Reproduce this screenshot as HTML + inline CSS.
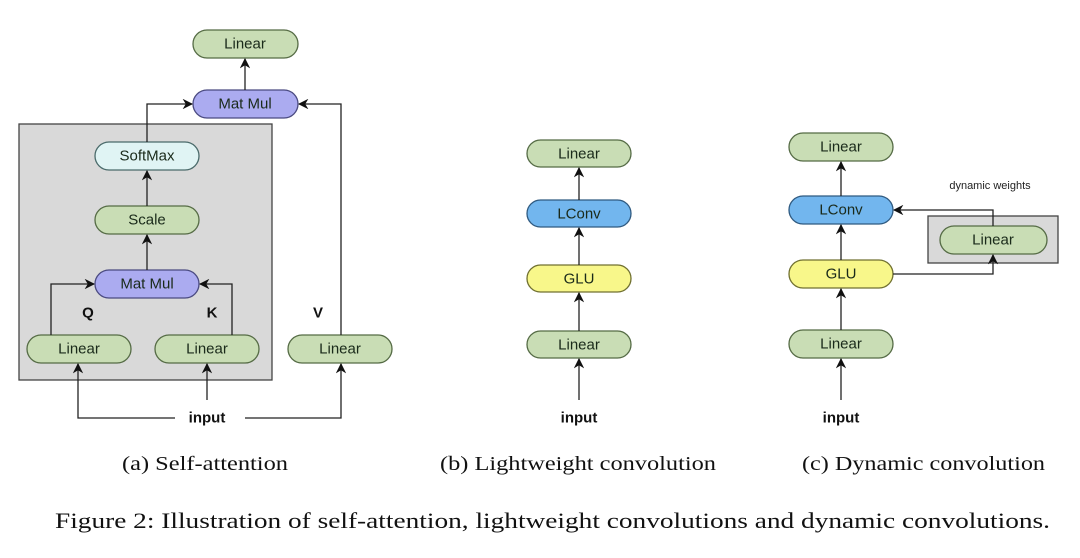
<!DOCTYPE html>
<html><head><meta charset="utf-8"><style>
html,body{margin:0;padding:0;background:#fff;}
svg{display:block;}
.n{font-family:"Liberation Sans",sans-serif;font-size:15px;fill:#1a2a1a;text-anchor:middle;dominant-baseline:central;}
.b{font-family:"Liberation Sans",sans-serif;font-size:15px;font-weight:bold;fill:#111;text-anchor:middle;dominant-baseline:central;}
.c{font-family:"Liberation Serif",serif;fill:#111;}
.g{fill:#c9ddb5;stroke:#556b45;stroke-width:1.3;}
.p{fill:#ababf0;stroke:#4a4a80;stroke-width:1.3;}
.s{fill:#e0f4f4;stroke:#4a6a6a;stroke-width:1.3;}
.l{fill:#72b6ee;stroke:#2f5a80;stroke-width:1.3;}
.y{fill:#f8f78a;stroke:#707030;stroke-width:1.3;}
.w{fill:none;stroke:#222;stroke-width:1.3;}
</style></head><body>
<svg width="1080" height="558" viewBox="0 0 1080 558" xmlns="http://www.w3.org/2000/svg">
<defs><marker id="a" viewBox="0 0 10 10" refX="9" refY="5" markerWidth="8" markerHeight="8" orient="auto"><path d="M0,0 L10,5 L0,10 L3,5 z" fill="#111"/></marker></defs>
<!-- Panel a -->
<rect x="19" y="124" width="253" height="256" fill="#d9d9d9" stroke="#444" stroke-width="1.3"/>
<rect class="g" x="193" y="30" width="105" height="28" rx="14"/><text class="n" x="245" y="44">Linear</text>
<rect class="p" x="193" y="90" width="105" height="28" rx="14"/><text class="n" x="245" y="104">Mat Mul</text>
<rect class="s" x="95" y="142" width="104" height="28" rx="14"/><text class="n" x="147" y="156">SoftMax</text>
<rect class="g" x="95" y="206" width="104" height="28" rx="14"/><text class="n" x="147" y="220">Scale</text>
<rect class="p" x="95" y="270" width="104" height="28" rx="14"/><text class="n" x="147" y="284">Mat Mul</text>
<rect class="g" x="27" y="335" width="104" height="28" rx="14"/><text class="n" x="79" y="349">Linear</text>
<rect class="g" x="155" y="335" width="104" height="28" rx="14"/><text class="n" x="207" y="349">Linear</text>
<rect class="g" x="288" y="335" width="104" height="28" rx="14"/><text class="n" x="340" y="349">Linear</text>
<text class="b" x="88" y="313">Q</text><text class="b" x="212" y="313">K</text><text class="b" x="318" y="313">V</text>
<text class="b" x="207" y="418">input</text>
<path class="w" d="M245,90 L245,59" marker-end="url(#a)"/>
<path class="w" d="M147,142 L147,104 L192,104" marker-end="url(#a)"/>
<path class="w" d="M341,335 L341,104 L299,104" marker-end="url(#a)"/>
<path class="w" d="M147,206 L147,171" marker-end="url(#a)"/>
<path class="w" d="M147,270 L147,235" marker-end="url(#a)"/>
<path class="w" d="M51,335 L51,284 L94,284" marker-end="url(#a)"/>
<path class="w" d="M232,335 L232,284 L200,284" marker-end="url(#a)"/>
<path class="w" d="M175,418 L78,418 L78,364" marker-end="url(#a)"/>
<path class="w" d="M245,418 L341,418 L341,364" marker-end="url(#a)"/>
<path class="w" d="M207,400 L207,364" marker-end="url(#a)"/>
<!-- Panel b -->
<rect class="g" x="527" y="140" width="104" height="27" rx="13.5"/><text class="n" x="579" y="154">Linear</text>
<rect class="l" x="527" y="200" width="104" height="27" rx="13.5"/><text class="n" x="579" y="214">LConv</text>
<rect class="y" x="527" y="265" width="104" height="27" rx="13.5"/><text class="n" x="579" y="279">GLU</text>
<rect class="g" x="527" y="331" width="104" height="27" rx="13.5"/><text class="n" x="579" y="345">Linear</text>
<text class="b" x="579" y="418">input</text>
<path class="w" d="M579,200 L579,168" marker-end="url(#a)"/>
<path class="w" d="M579,265 L579,228" marker-end="url(#a)"/>
<path class="w" d="M579,331 L579,293" marker-end="url(#a)"/>
<path class="w" d="M579,400 L579,359" marker-end="url(#a)"/>
<!-- Panel c -->
<rect x="928" y="216" width="130" height="47" fill="#d9d9d9" stroke="#444" stroke-width="1.3"/>
<rect class="g" x="789" y="133" width="104" height="28" rx="14"/><text class="n" x="841" y="147">Linear</text>
<rect class="l" x="789" y="196" width="104" height="28" rx="14"/><text class="n" x="841" y="210">LConv</text>
<rect class="y" x="789" y="260" width="104" height="28" rx="14"/><text class="n" x="841" y="274">GLU</text>
<rect class="g" x="789" y="330" width="104" height="28" rx="14"/><text class="n" x="841" y="344">Linear</text>
<rect class="g" x="940" y="226" width="107" height="28" rx="14"/><text class="n" x="993" y="240">Linear</text>
<text x="990" y="186" style="font-family:'Liberation Sans',sans-serif;font-size:11px;fill:#222;text-anchor:middle;dominant-baseline:central">dynamic weights</text>
<text class="b" x="841" y="418">input</text>
<path class="w" d="M841,196 L841,162" marker-end="url(#a)"/>
<path class="w" d="M841,260 L841,225" marker-end="url(#a)"/>
<path class="w" d="M841,330 L841,289" marker-end="url(#a)"/>
<path class="w" d="M841,400 L841,359" marker-end="url(#a)"/>
<path class="w" d="M993,226 L993,210 L894,210" marker-end="url(#a)"/>
<path class="w" d="M893,274 L993,274 L993,255" marker-end="url(#a)"/>
<!-- captions -->
<text class="c" x="122" y="470" font-size="20" textLength="166" lengthAdjust="spacingAndGlyphs">(a) Self-attention</text>
<text class="c" x="440" y="470" font-size="20" textLength="276" lengthAdjust="spacingAndGlyphs">(b) Lightweight convolution</text>
<text class="c" x="802" y="470" font-size="20" textLength="243" lengthAdjust="spacingAndGlyphs">(c) Dynamic convolution</text>
<text class="c" x="55" y="528" font-size="22" textLength="995" lengthAdjust="spacingAndGlyphs">Figure 2: Illustration of self-attention, lightweight convolutions and dynamic convolutions.</text>
</svg>
</body></html>
